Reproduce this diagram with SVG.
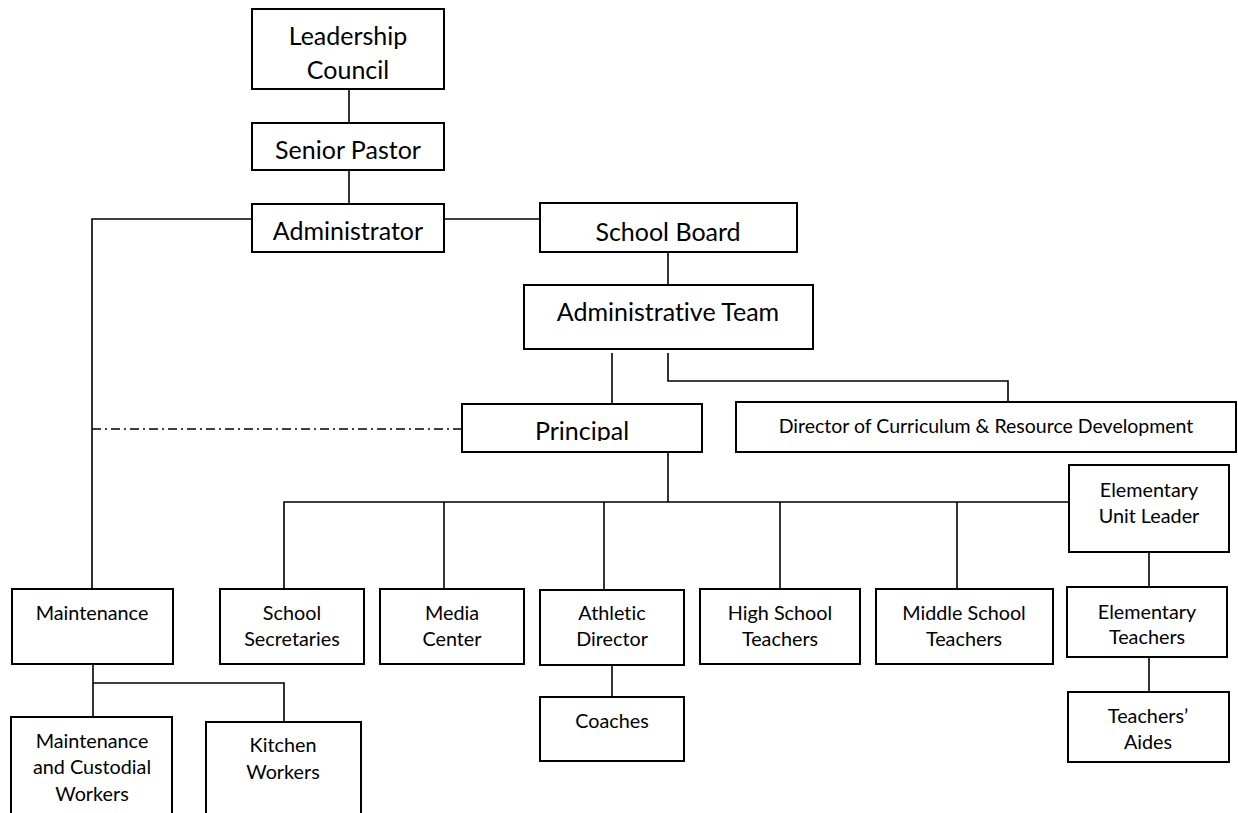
<svg xmlns="http://www.w3.org/2000/svg" width="1238" height="813" viewBox="0 0 1238 813">
<style>
.box{fill:#fff;stroke:#000;stroke-width:2}
.ln{fill:none;stroke:#000;stroke-width:1.6}
.dd{fill:none;stroke:#000;stroke-width:1.6;stroke-dasharray:9 4 2 4}
text{font-family:Lato,"Open Sans","Liberation Sans",sans-serif;fill:#000;text-anchor:middle;font-variant-ligatures:none}
.big{font-size:25px}
.sm{font-size:19.8px}
.xs{font-size:19.5px}
</style>
<defs>
<clipPath id="prclip"><rect x="462" y="404" width="240" height="37"/></clipPath>
</defs>
<rect width="1238" height="813" fill="#fff"/>
<g id="connectors">
<path class="ln" d="M349 89V123"/>
<path class="ln" d="M349 170V204"/>
<path class="ln" d="M252 219H92V589"/>
<path class="ln" d="M444 219H540"/>
<path class="ln" d="M668 252V285"/>
<path class="ln" d="M612 353V404"/>
<path class="ln" d="M668 353V381H1008V402"/>
<path class="dd" d="M92 429H462"/>
<path class="ln" d="M668 452V502"/>
<path class="ln" d="M284 589V502H1069"/>
<path class="ln" d="M444 502V589"/>
<path class="ln" d="M604 502V590"/>
<path class="ln" d="M780 502V589"/>
<path class="ln" d="M957 502V589"/>
<path class="ln" d="M93 664V717"/>
<path class="ln" d="M93 683H284V722"/>
<path class="ln" d="M612 665V697"/>
<path class="ln" d="M1149 552V587"/>
<path class="ln" d="M1149 657V692"/>
</g>
<g id="leadership-council"><rect class="box" x="252" y="9" width="192" height="80"/><text class="big" x="348" y="45">Leadership</text><text class="big" x="348" y="79">Council</text></g>
<g id="senior-pastor"><rect class="box" x="252" y="123" width="192" height="47"/><text class="big" x="348" y="159">Senior Pastor</text></g>
<g id="administrator"><rect class="box" x="252" y="204" width="192" height="48"/><text class="big" x="348" y="240">Administrator</text></g>
<g id="school-board"><rect class="box" x="540" y="203" width="257" height="49"/><text class="big" x="668" y="241">School Board</text></g>
<g id="administrative-team"><rect class="box" x="524" y="285" width="289" height="64"/><text class="big" x="668" y="321">Administrative Team</text></g>
<g id="principal"><rect class="box" x="462" y="404" width="240" height="48"/><text class="big" x="582" y="440" clip-path="url(#prclip)">Principal</text></g>
<g id="director"><rect class="box" x="736" y="402" width="500" height="50"/><text class="xs" x="986" y="433">Director of Curriculum &amp; Resource Development</text></g>
<g id="elementary-unit-leader"><rect class="box" x="1069" y="465" width="160" height="87"/><text class="sm" x="1149" y="497">Elementary</text><text class="sm" x="1149" y="523">Unit Leader</text></g>
<g id="maintenance"><rect class="box" x="12" y="589" width="161" height="75"/><text class="sm" x="92" y="620">Maintenance</text></g>
<g id="school-secretaries"><rect class="box" x="220" y="589" width="144" height="75"/><text class="sm" x="292" y="620">School</text><text class="sm" x="292" y="646">Secretaries</text></g>
<g id="media-center"><rect class="box" x="380" y="589" width="144" height="75"/><text class="sm" x="452" y="620">Media</text><text class="sm" x="452" y="646">Center</text></g>
<g id="athletic-director"><rect class="box" x="540" y="590" width="144" height="75"/><text class="sm" x="612" y="620">Athletic</text><text class="sm" x="612" y="646">Director</text></g>
<g id="high-school-teachers"><rect class="box" x="700" y="589" width="160" height="75"/><text class="sm" x="780" y="620">High School</text><text class="sm" x="780" y="646">Teachers</text></g>
<g id="middle-school-teachers"><rect class="box" x="876" y="589" width="177" height="75"/><text class="sm" x="964" y="620">Middle School</text><text class="sm" x="964" y="646">Teachers</text></g>
<g id="elementary-teachers"><rect class="box" x="1067" y="587" width="160" height="70"/><text class="sm" x="1147" y="619">Elementary</text><text class="sm" x="1147" y="644">Teachers</text></g>
<g id="coaches"><rect class="box" x="540" y="697" width="144" height="64"/><text class="sm" x="612" y="728">Coaches</text></g>
<g id="teachers-aides"><rect class="box" x="1068" y="692" width="161" height="70"/><text class="sm" x="1148" y="723">Teachers’</text><text class="sm" x="1148" y="749">Aides</text></g>
<g id="maintenance-custodial-workers"><rect class="box" x="11" y="717" width="161" height="120"/><text class="sm" x="92" y="748">Maintenance</text><text class="sm" x="92" y="774">and Custodial</text><text class="sm" x="92" y="801">Workers</text></g>
<g id="kitchen-workers"><rect class="box" x="206" y="722" width="155" height="120"/><text class="sm" x="283" y="752">Kitchen</text><text class="sm" x="283" y="779">Workers</text></g>
</svg>
